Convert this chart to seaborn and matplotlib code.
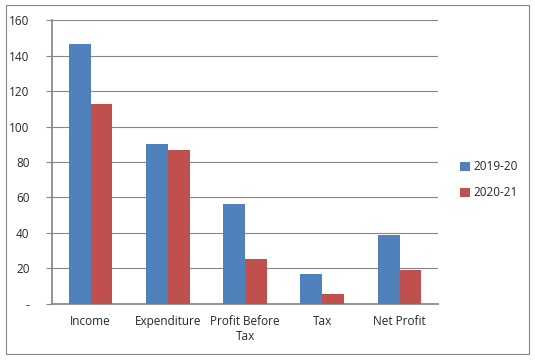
import pandas as pd
import numpy as np
import matplotlib.pyplot as plt
import seaborn as sns
from matplotlib.patches import Rectangle

categories = ["Income", "Expenditure", "Profit Before\nTax", "Tax", "Net Profit"]
series_names = ["2019-20", "2020-21"]
values_2019 = [146.5, 90.1, 56.3, 16.9, 38.9]
values_2020 = [112.7, 86.8, 25.2, 5.6, 19.3]
y_ticks = [0, 20, 40, 60, 80, 100, 120, 140, 160]
y_tick_labels = ["-", "20", "40", "60", "80", "100", "120", "140", "160"]

df = pd.DataFrame({
    "Category": categories * 2,
    "Year": [series_names[0]] * 5 + [series_names[1]] * 5,
    "Value": values_2019 + values_2020,
})

sns.set_theme(style="white")
plt.rcParams["font.family"] = ["Open Sans", "DejaVu Sans"]

fig = plt.figure(figsize=(5.35, 3.6), dpi=100)
ax = fig.add_axes([0.097, 0.156, 0.722, 0.788])

sns.barplot(data=df, x="Category", y="Value", hue="Year",
            palette=["#4F81BD", "#C0504D"], width=0.567, gap=0,
            saturation=1, linewidth=0, ax=ax, zorder=3)

ax.set_ylim(0, 160)
ax.set_yticks(y_ticks)
ax.set_yticklabels(y_tick_labels, fontsize=8.5)
ax.tick_params(axis="x", labelsize=8.5, length=0, pad=8)
ax.tick_params(axis="y", left=True, length=4, width=0.8, color="#868686", pad=12)
ax.yaxis.grid(True, color="#868686", linewidth=0.8, zorder=0)
ax.set_xlabel("")
ax.set_ylabel("")
for side in ["top", "right"]:
    ax.spines[side].set_visible(False)
ax.spines["left"].set_color("#868686")
ax.spines["bottom"].set_color("#868686")

ax.legend(loc="center left", bbox_to_anchor=(1.03, 0.437), frameon=False,
          fontsize=8.5, handlelength=0.8, handleheight=0.8, handletextpad=0.3,
          labelspacing=1.1)

fig.patches.append(Rectangle((0.011, 0.017), 0.978, 0.968, transform=fig.transFigure,
                             fill=False, edgecolor="#868686", linewidth=0.8))

fig.savefig("out.png", dpi=100)
